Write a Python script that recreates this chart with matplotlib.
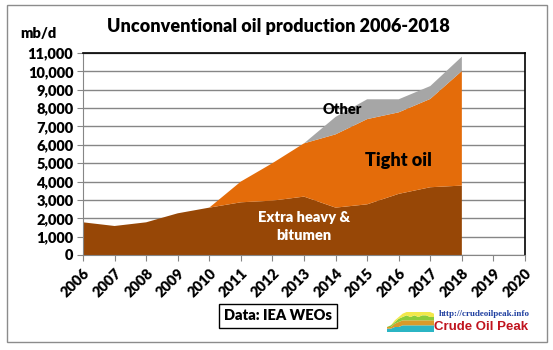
import numpy as np
import matplotlib.pyplot as plt
from matplotlib.patches import Rectangle

plt.rcParams['font.family'] = ['Lato', 'DejaVu Sans']
plt.rcParams['font.weight'] = 'bold'

years = [2006, 2007, 2008, 2009, 2010, 2011, 2012, 2013, 2014, 2015, 2016, 2017, 2018]
heavy = [1780, 1580, 1780, 2270, 2580, 2870, 2960, 3180, 2580, 2760, 3330, 3690, 3780]
tight = [0, 0, 0, 0, 0, 1130, 2040, 2900, 3990, 4640, 4440, 4810, 6240]
other = [0, 0, 0, 0, 0, 0, 0, 0, 950, 1080, 710, 700, 780]

# small logo series
logo_x = [0, 1, 2, 3, 4, 5, 6, 7, 8, 9, 10, 11, 12]
logo_a = [2, 2, 3, 3, 4, 4, 4, 4, 4, 4, 4, 4, 4]
logo_b = [1, 1, 2, 3, 3, 3, 3, 3, 3, 3, 3, 3, 3]
logo_c = [0, 1, 1, 2, 2, 3, 2, 3, 2, 3, 3, 2, 2]
logo_d = [0, 0, 1, 1, 2, 2, 3, 2, 3, 2, 2, 3, 2]

c_heavy = '#974706'
c_tight = '#E46C0A'
c_other = '#A6A6A6'
W = 'heavy'

fig = plt.figure(figsize=(5.53, 3.5), dpi=100)
fig.patch.set_facecolor('white')
fig.add_artist(Rectangle((7/553, 8/350), 540/553, 337/350, transform=fig.transFigure,
                         fill=False, edgecolor='#8C8C8C', lw=1))

ax = fig.add_axes([83/553, 95/350, 442/553, 202/350])
ax.stackplot(years, heavy, tight, other, colors=[c_heavy, c_tight, c_other], lw=0)

ax.set_xlim(2006, 2020)
ax.set_ylim(0, 11000)
ax.set_yticks(np.arange(0, 11001, 1000))
ax.set_yticklabels([f'{v:,}' for v in range(0, 11001, 1000)], fontsize=10.5, fontweight=W)
ax.set_xticks(range(2006, 2021))
ax.set_xticklabels([str(y) for y in range(2006, 2021)], rotation=45, ha='right',
                   rotation_mode='anchor', fontsize=10.5, fontweight=W)
ax.tick_params(axis='both', color='#868686', length=4, pad=3)
ax.tick_params(axis='x', pad=4)
ax.grid(axis='y', color='#868686', lw=1)
ax.set_axisbelow(True)
for s in ['left', 'bottom']:
    ax.spines[s].set_color('#868686')
for s in ['top', 'right']:
    ax.spines[s].set_color('black')
    ax.spines[s].set_linewidth(1.2)

ax.text(2016.0, 5170, 'Tight oil', fontsize=13, fontweight=W, ha='center', va='center')
ax.text(2014.2, 7950, 'Other', fontsize=10.5, fontweight=W, ha='center', va='center')
ax.text(2013.0, 1540, 'Extra heavy &\nbitumen', fontsize=10.5, fontweight=W, ha='center',
        va='center', color='white', linespacing=1.45)

fig.text(0.503, 0.923, 'Unconventional oil production 2006-2018', fontsize=13,
         fontweight=W, ha='center', va='center')
fig.text(20/553, 0.905, 'mb/d', fontsize=10.5, fontweight=W, ha='left', va='center')

fig.text(278/553, 1 - 316/350, 'Data: IEA WEOs', fontsize=10.5, fontweight=W,
         ha='center', va='center',
         bbox=dict(boxstyle='square,pad=0.35', fc='white', ec='black', lw=1))

# logo
lax = fig.add_axes([387/553, 18/350, 47/553, 20/350])
ys = np.vstack([logo_a, logo_b, logo_c, logo_d])
lax.stackplot(logo_x, ys, colors=['#2BB5C4', '#D99A2B', '#8BCB3A', '#F2E84A'], lw=0)
lax.set_xlim(0, 12)
lax.set_ylim(0, 12)
lax.axis('off')
fig.text(439/553, 1 - 314/350, 'http://crudeoilpeak.info', fontsize=6.5, fontweight='bold',
         family='Liberation Serif', color='#1F3FA0', ha='left', va='center')
fig.text(434/553, 1 - 327/350, 'Crude Oil Peak', fontsize=9.5, fontweight='bold',
         family='Liberation Sans', color='#C0141E', ha='left', va='center')

fig.savefig('out.png', dpi=100)
